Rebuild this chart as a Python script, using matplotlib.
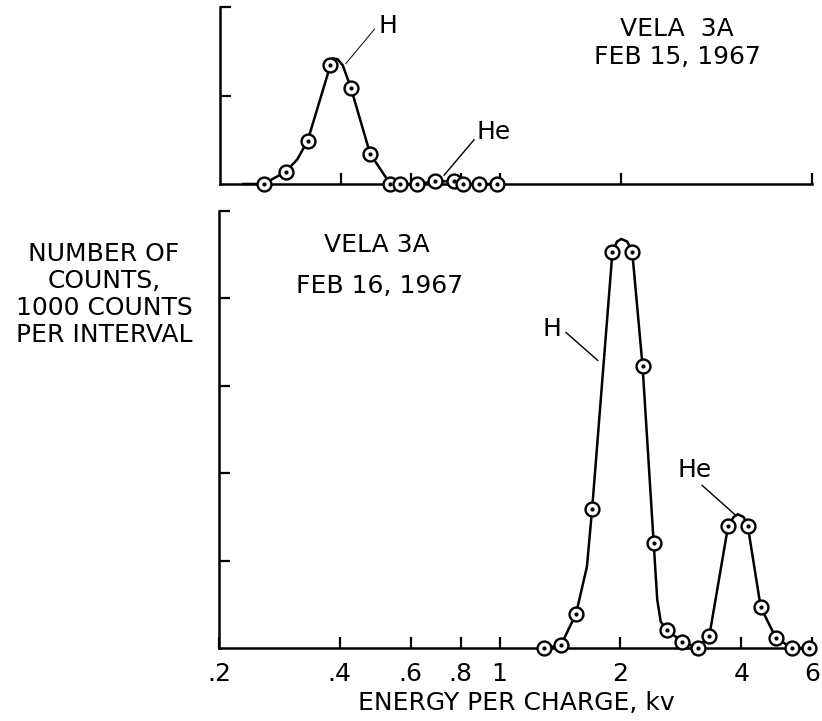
import numpy as np
import matplotlib
matplotlib.use("Agg")
import matplotlib.pyplot as plt

# ---------------- data ----------------
# Top panel: Vela 3A, Feb 15, 1967  (energy per charge kV, counts in 1000s)
top_energy = [0.257, 0.292, 0.331, 0.377, 0.424, 0.474, 0.532, 0.562, 0.619,
              0.687, 0.766, 0.809, 0.887, 0.982]
top_counts = [0.00, 0.14, 0.49, 1.34, 1.09, 0.34, 0.00, 0.00, 0.00,
              0.03, 0.03, 0.00, 0.00, 0.00]
# extra points (tail and rounded peak)
top_curve_extra_energy = [0.229, 0.312, 0.382, 0.393, 0.405]
top_curve_extra_counts = [0.00, 0.28, 1.42, 1.41, 1.34]

# Bottom panel: Vela 3A, Feb 16, 1967
bot_energy = [1.29, 1.42, 1.55, 1.70, 1.91, 2.14, 2.27, 2.42, 2.61, 2.85,
              3.12, 3.33, 3.71, 4.15, 4.47, 4.87, 5.34, 5.90]
bot_counts = [0.00, 0.03, 0.39, 1.59, 4.53, 4.53, 3.23, 1.20, 0.21, 0.07,
              0.00, 0.14, 1.40, 1.40, 0.47, 0.12, 0.00, 0.00]
bot_curve_extra_energy = [1.65, 1.96, 2.01, 2.08, 2.47, 2.52, 3.83, 3.92, 4.05]
bot_curve_extra_counts = [0.93, 4.65, 4.68, 4.65, 0.55, 0.30, 1.50, 1.53, 1.50]

xtick_values = [0.2, 0.4, 0.6, 0.8, 1, 2, 4, 6]
xtick_labels = ['.2', '.4', '.6', '.8', '1', '2', '4', '6']
top_xticks = [0.4, 0.6, 0.8, 1, 2, 6]
top_yticks = [1, 2]
bot_yticks = [1, 2, 3, 4, 5]

# ---------------- figure ----------------
W, H = 822, 721
fig = plt.figure(figsize=(W / 100, H / 100), dpi=100)
plt.rcParams['font.family'] = ['DejaVu Sans']
FS = 18
LW = 1.8


def fig_ax(left, right, top, bottom):
    return fig.add_axes([left / W, 1 - bottom / H, (right - left) / W, (bottom - top) / H])


ax_top = fig_ax(220, 812, 7, 184)
ax_bot = fig_ax(219, 812, 211, 648)


def curve(xs, ys, ex, ey):
    x = np.concatenate([xs, ex])
    y = np.concatenate([ys, ey])
    o = np.argsort(x)
    return x[o], y[o]


def style(ax, ylim, yticks, xticks):
    ax.set_xscale('log')
    ax.set_xlim(0.2, 6)
    ax.set_ylim(*ylim)
    for s in ['top', 'right']:
        ax.spines[s].set_visible(False)
    for s in ['left', 'bottom']:
        ax.spines[s].set_linewidth(1.8)
    ax.minorticks_off()
    ax.set_yticks(yticks)
    ax.set_yticklabels([])
    ax.set_xticks(xticks)
    ax.tick_params(direction='in', length=8, width=1.6, labelsize=FS, pad=10)
    ax.set_facecolor('none')


def draw(ax, xs, ys, ex, ey):
    cx, cy = curve(xs, ys, ex, ey)
    ax.plot(cx, cy, color='black', lw=LW, zorder=3, clip_on=False)
    ax.plot(xs, ys, 'o', ms=10, mfc='white', mec='black', mew=1.7, zorder=4, clip_on=False)
    ax.plot(xs, ys, 'o', ms=2.0, mfc='black', mec='black', zorder=5, clip_on=False)


# top panel
style(ax_top, (0, 2.0), top_yticks, top_xticks)
ax_top.set_xticklabels([])
draw(ax_top, top_energy, top_counts, top_curve_extra_energy, top_curve_extra_counts)
ax_top.text(0.524, 1.78, 'H', fontsize=FS, ha='center', va='center')
ax_top.plot([0.486, 0.412], [1.75, 1.36], color='black', lw=0.7)
ax_top.text(0.961, 0.59, 'He', fontsize=FS, ha='center', va='center')
ax_top.plot([0.861, 0.725], [0.50, 0.10], color='black', lw=1.0)

# bottom panel
style(ax_bot, (0, 5.0), bot_yticks, xtick_values)
ax_bot.set_xticklabels(xtick_labels)
draw(ax_bot, bot_energy, bot_counts, bot_curve_extra_energy, bot_curve_extra_counts)
ax_bot.text(1.351, 3.65, 'H', fontsize=FS, ha='center', va='center')
ax_bot.plot([1.464, 1.756], [3.61, 3.29], color='black', lw=1.0)
ax_bot.text(3.064, 2.04, 'He', fontsize=FS, ha='center', va='center')
ax_bot.plot([3.196, 3.87], [1.86, 1.52], color='black', lw=1.0)

# annotations in figure pixel positions
def ftext(x, y, s, **kw):
    fig.text(x / W, 1 - y / H, s, fontsize=FS, ha='center', va='center', **kw)

ftext(677, 29, 'VELA  3A')
ftext(677, 57, 'FEB 15, 1967')
ftext(377, 245, 'VELA 3A')
ftext(380, 286, 'FEB 16, 1967')
ftext(104, 294.5, 'NUMBER OF\nCOUNTS,\n1000 COUNTS\nPER INTERVAL', multialignment='center', linespacing=1.15)
ftext(516, 703, 'ENERGY PER CHARGE, kv')

fig.savefig('out.png', dpi=100)
